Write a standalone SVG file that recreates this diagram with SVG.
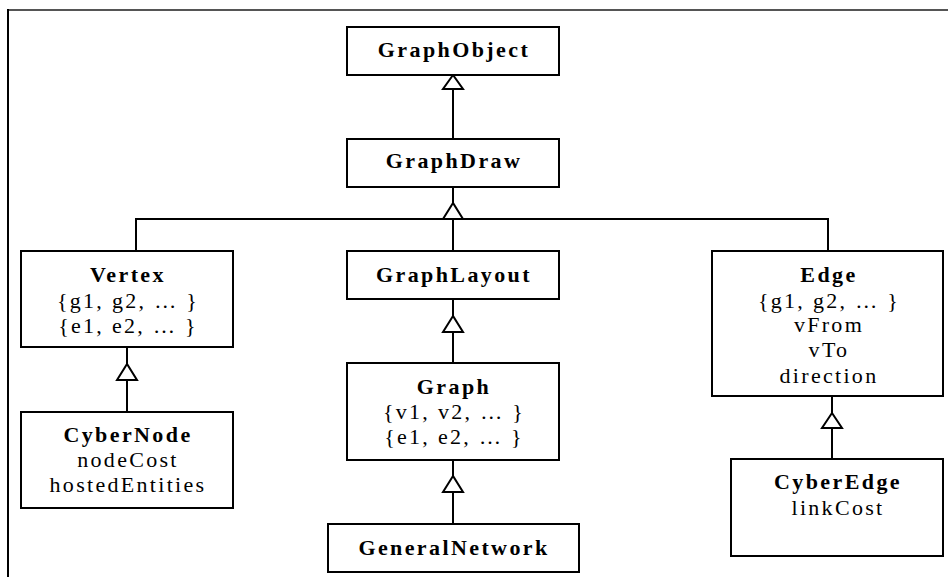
<svg xmlns="http://www.w3.org/2000/svg" width="948" height="577" viewBox="0 0 948 577">
<style>
.box{fill:#fff;stroke:#000;stroke-width:2}
.t{font-family:"Liberation Serif","Times New Roman",serif;font-size:22px;font-weight:bold;letter-spacing:2.4px;text-anchor:middle;fill:#000}
.a{font-family:"Liberation Serif","Times New Roman",serif;font-size:22px;letter-spacing:2.3px;text-anchor:middle;fill:#000}
.c{fill:none;stroke:#000;stroke-width:2}
.h{fill:#fff;stroke:#000;stroke-width:2;stroke-linejoin:miter}
</style>
<rect width="948" height="577" fill="#fff"/>
<line x1="8" y1="10" x2="948" y2="10" stroke="#555" stroke-width="2"/>
<line x1="8" y1="9" x2="8" y2="577" stroke="#000" stroke-width="2"/>
<g id="connectors">
<line class="c" x1="453" y1="89" x2="453" y2="139"/>
<polygon class="h" points="453,75 443,89 463,89"/>
<line class="c" x1="453" y1="187" x2="453" y2="203"/>
<polyline class="c" points="136,251 136,219 828,219 828,251"/>
<line class="c" x1="453" y1="219" x2="453" y2="251"/>
<polygon class="h" points="453,203 443,219 463,219"/>
<line class="c" x1="453" y1="299" x2="453" y2="316"/>
<line class="c" x1="453" y1="332" x2="453" y2="363"/>
<polygon class="h" points="453,316 443,332 463,332"/>
<line class="c" x1="453" y1="460" x2="453" y2="476"/>
<line class="c" x1="453" y1="492" x2="453" y2="524"/>
<polygon class="h" points="453,476 443,492 463,492"/>
<line class="c" x1="127" y1="347" x2="127" y2="364"/>
<line class="c" x1="127" y1="380" x2="127" y2="412"/>
<polygon class="h" points="127,364 117,380 137,380"/>
<line class="c" x1="832" y1="396" x2="832" y2="413"/>
<line class="c" x1="832" y1="428" x2="832" y2="459"/>
<polygon class="h" points="832,413 822,428 842,428"/>
</g>
<g id="GraphObject">
<rect class="box" x="347" y="27" width="212" height="48"/>
<text class="t" x="454" y="57">GraphObject</text>
</g>
<g id="GraphDraw">
<rect class="box" x="347" y="139" width="212" height="48"/>
<text class="t" x="454" y="168">GraphDraw</text>
</g>
<g id="Vertex">
<rect class="box" x="21" y="251" width="212" height="96"/>
<text class="t" x="128" y="282">Vertex</text>
<text class="a" x="128" y="308">{g1, g2, …  }</text>
<text class="a" x="128" y="333">{e1, e2, …  }</text>
</g>
<g id="GraphLayout">
<rect class="box" x="347" y="251" width="212" height="48"/>
<text class="t" x="454" y="282">GraphLayout</text>
</g>
<g id="Edge">
<rect class="box" x="712" y="251" width="231" height="145"/>
<text class="t" x="829" y="282">Edge</text>
<text class="a" x="829" y="308">{g1, g2, …  }</text>
<text class="a" x="829" y="332">vFrom</text>
<text class="a" x="829" y="357">vTo</text>
<text class="a" x="829" y="383">direction</text>
</g>
<g id="Graph">
<rect class="box" x="347" y="363" width="212" height="97"/>
<text class="t" x="454" y="394">Graph</text>
<text class="a" x="454" y="419">{v1, v2, …  }</text>
<text class="a" x="454" y="444">{e1, e2, …  }</text>
</g>
<g id="CyberNode">
<rect class="box" x="21" y="412" width="212" height="96"/>
<text class="t" x="128" y="442">CyberNode</text>
<text class="a" x="128" y="467">nodeCost</text>
<text class="a" x="128" y="492">hostedEntities</text>
</g>
<g id="GeneralNetwork">
<rect class="box" x="328" y="524" width="251" height="48"/>
<text class="t" x="454" y="555">GeneralNetwork</text>
</g>
<g id="CyberEdge">
<rect class="box" x="731" y="459" width="212" height="97"/>
<text class="t" x="838" y="489">CyberEdge</text>
<text class="a" x="838" y="515">linkCost</text>
</g>
</svg>
